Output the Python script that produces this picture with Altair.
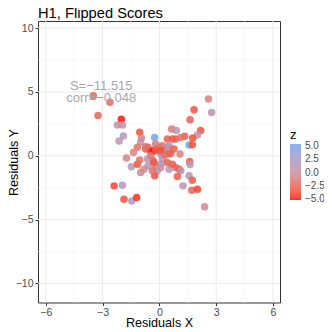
import altair as alt
import pandas as pd

xs = [-3.49, -2.61, -3.24, -2.01, -2.22, -1.95, -1.90, -2.13,
      2.59, 1.83, 2.76, 1.62, 2.18, 2.01, 1.76, 1.57, 1.74, 0.65, 0.90, 0.42, 0.69, 0.86, 1.34, 1.13,
      -0.25, -0.32, 0.51, 1.09, 1.60, 1.62,
      -1.04, -0.95, -0.99, -1.16, -1.37, -1.74, -1.48, -1.16, -1.04, -0.99, -0.81, -0.60, -0.72, -0.60,
      -0.49, -0.37, -0.19, -0.11, 0.02, 0.16, 0.25, 0.42, 0.51, 0.07, 0.16, 0.42, -0.33, -0.19, -0.11,
      -0.25, -0.37, 0.07, 0.51, 0.86, 1.04, 1.13, 0.95, 0.69, 1.57, 1.74, 1.25, 1.71, 2.01, 2.39,
      -2.39, -1.95, -1.87, -1.46, -1.20,
      0.07, -0.72, 0.07, -0.20, -0.63, -0.29, 0.30, -0.45, 0.60, 0.77]
ys = [4.70, 4.20, 3.15, 2.86, 2.41, 2.41, 1.55, 1.15,
      4.44, 3.60, 3.39, 2.83, 1.97, 1.63, 1.39, 0.84, 0.87, 2.10, 1.97, 1.31, 1.31, 1.31, 1.52, 1.44,
      1.44, 0.39, 0.13, 0.13, -0.45, -0.68,
      1.84, 1.39, 1.05, 0.66, 0.26, -0.18, -0.87, -0.66, -0.34, -1.31, -1.05, -0.79, 0.52, 0.66,
      0.39, 0.34, 0.52, 0.39, 0.66, 0.79, 0.39, 0.66, 0.79, 0.13, -0.26, -0.52, -0.39, -0.79, -1.18,
      -1.57, -1.18, -0.92, -1.05, -0.92, -1.05, -1.18, -1.63, -0.66, -1.57, -1.92, -2.36, -2.70, -2.62, -3.99,
      -2.36, -2.31, -3.41, -3.54, -3.28,
      -0.65, 0.70, 0.39, 0.92, -0.26, -0.55, 0.05, 0.00, 0.20, 0.52]
zs = [-2.5, -2.5, -2.5, -5.0, 0.5, 0.5, 1.5, 1.5,
      -1.0, -3.5, 1.5, -3.0, -3.5, 1.0, -3.5, 5.0, -3.5, -1.5, 1.0, -3.0, -3.0, -3.0, -3.0, -2.0,
      5.0, -5.0, -3.0, -1.0, -3.0, 1.5,
      -3.5, -1.0, 1.0, -2.0, -1.0, -1.0, 1.5, -3.5, -2.0, -0.5, -0.5, 1.5, -3.0, -3.0,
      -3.0, -5.0, -3.0, -3.5, -3.0, -1.5, -3.0, -0.5, 1.5, 1.5, 1.5, -3.0, -3.0, -0.5, 1.5,
      -3.5, -2.0, -0.5, 1.5, -2.0, -3.0, 1.5, -3.0, -3.0, 1.5, -3.0, 0.5, -2.5, -4.0, -0.5,
      -4.0, 2.0, -3.5, 2.0, -4.5,
      1.5, -2.0, -3.5, -1.5, 1.5, -3.0, -2.0, -1.5, -2.5, -3.0]

x_major = [-6, -3, 0, 3, 6]
x_minor = [-4.5, -1.5, 1.5, 4.5]
y_major = [-10, -5, 0, 5, 10]
y_minor = [-7.5, -2.5, 2.5, 7.5]
legend_values = [5.0, 2.5, 0.0, -2.5, -5.0]
color_domain = [-5.2, 0, 5.4]
color_range = ["#FF0000", "#C8909F", "#6CA4EE"]
annotation = ["S=\u221211.515", "corr=\u22120.048"]
ann_x = [-3.07, -3.07]
ann_y = [5.43, 4.49]

x_dom = [-6.41, 6.37]
y_dom = [-11.5, 10.56]

df = pd.DataFrame({"x": xs, "y": ys, "z": zs})

xscale = alt.Scale(domain=x_dom, nice=False, zero=False)
yscale = alt.Scale(domain=y_dom, nice=False, zero=False)

xaxis = alt.Axis(values=x_major, format="d", grid=False, domain=False, tickColor="#333333",
                 tickSize=3, labelColor="#4D4D4D", labelFontSize=10.5, labelPadding=2,
                 title="Residuals X", titleFontSize=12.6, titleColor="#000000",
                 titleFontWeight="normal", titleX=121, titleY=14)
yaxis = alt.Axis(values=y_major, format="d", grid=False, domain=False, tickColor="#333333",
                 tickSize=3, labelColor="#4D4D4D", labelFontSize=10.5, labelPadding=2,
                 title="Residuals Y", titleFontSize=12.6, titleColor="#000000",
                 titleFontWeight="normal", titleX=-18, titleY=141)

minor_v = alt.Chart(pd.DataFrame({"v": x_minor})).mark_rule(color="#F4F4F4", strokeWidth=0.6).encode(
    x=alt.X("v:Q", scale=xscale, axis=xaxis))
major_v = alt.Chart(pd.DataFrame({"v": x_major})).mark_rule(color="#EBEBEB", strokeWidth=1).encode(
    x=alt.X("v:Q", scale=xscale, axis=xaxis))
minor_h = alt.Chart(pd.DataFrame({"v": y_minor})).mark_rule(color="#F4F4F4", strokeWidth=0.6).encode(
    y=alt.Y("v:Q", scale=yscale, axis=yaxis))
major_h = alt.Chart(pd.DataFrame({"v": y_major})).mark_rule(color="#EBEBEB", strokeWidth=1).encode(
    y=alt.Y("v:Q", scale=yscale, axis=yaxis))

points = alt.Chart(df).mark_circle(size=56, opacity=0.85).encode(
    x=alt.X("x:Q", scale=xscale, axis=xaxis),
    y=alt.Y("y:Q", scale=yscale, axis=yaxis),
    color=alt.Color("z:Q",
                    scale=alt.Scale(domain=color_domain, range=color_range, interpolate="lab"),
                    legend=alt.Legend(title="z", orient="none", legendX=252, legendY=108,
                                      values=legend_values, format=".1f", gradientLength=56,
                                      gradientThickness=11, titleFontSize=13, titleFontWeight="normal",
                                      titleColor="#000000", titlePadding=2, labelFontSize=10,
                                      labelColor="#4D4D4D", labelOffset=4, labelOverlap=False,
                                      direction="vertical")),
)

text = alt.Chart(pd.DataFrame({"x": ann_x, "y": ann_y, "t": annotation})).mark_text(
    fontSize=13, color="#A8A8A8", align="center", baseline="middle").encode(
    x=alt.X("x:Q", scale=xscale, axis=xaxis),
    y=alt.Y("y:Q", scale=yscale, axis=yaxis),
    text="t:N")

chart = alt.layer(minor_v, minor_h, major_v, major_h, points, text).properties(
    width=242, height=281.5,
    title=alt.TitleParams("H1, Flipped Scores", anchor="start", frame="group", fontSize=14.7,
                          fontWeight="normal", color="#000000", offset=2, baseline="bottom", dy=17),
    autosize=alt.AutoSizeParams(type="none"),
    padding={"left": 30, "top": 13, "right": 44, "bottom": 30},
).configure(font="Liberation Sans").configure_view(stroke="#333333", strokeWidth=1)

chart.save("out.html", embed_options={"renderer": "svg", "actions": False})
